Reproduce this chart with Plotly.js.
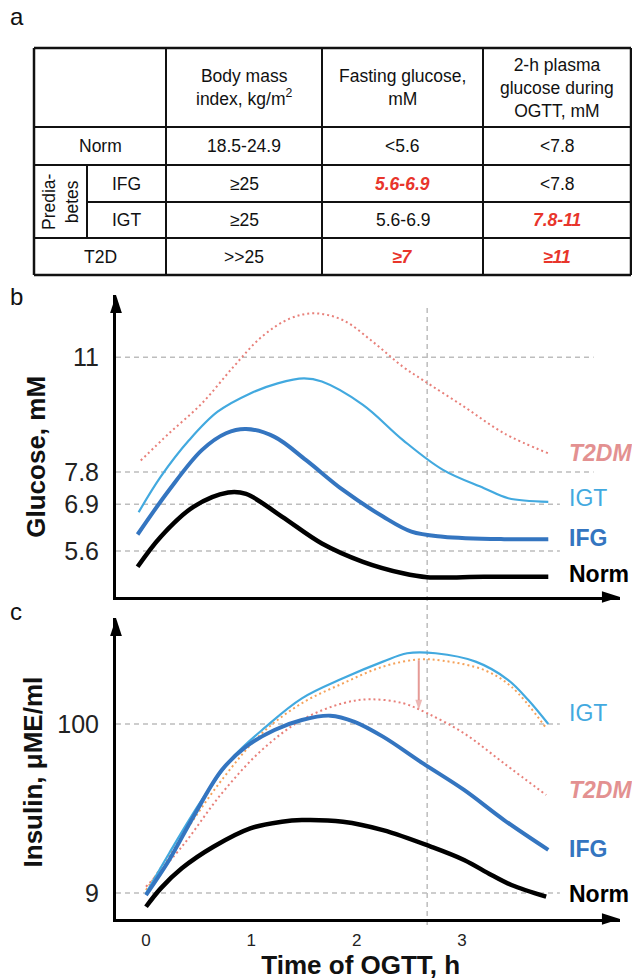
<!DOCTYPE html>
<html><head><meta charset="utf-8">
<script src="https://cdn.plot.ly/plotly-3.0.1.min.js"></script>
<style>html,body{margin:0;padding:0;background:#fff;}#chart{width:632px;height:980px;}</style>
</head><body><div id="chart"></div>
<script>
// ===== Panel a: classification table =====
const tableHeaders = ["", "Body mass<br>index, kg/m<sup>2</sup>", "Fasting glucose,<br>mM", "2-h plasma<br>glucose during<br>OGTT, mM"];
const tableGroups = ["Norm", "IFG", "IGT", "T2D"];
const prediabetesLabel = "Predia-<br>betes";
const bmiValues = ["18.5-24.9", "≥25", "≥25", ">>25"];
const fastingValues = ["<5.6", "5.6-6.9", "5.6-6.9", "≥7"];
const ogttValues = ["<7.8", "<7.8", "7.8-11", "≥11"];
const fastingHighlight = [false, true, false, true];
const ogttHighlight = [false, false, true, true];

// ===== Panel b: glucose during OGTT (mM) =====
const glucoseTicks = [5.6, 6.9, 7.8, 11];
const glucNormT = [-0.08, 0.14, 0.45, 0.78, 0.95, 1.29, 1.67, 2.06, 2.44, 2.67, 3.21, 3.82];
const glucNormY = [5.16, 6.0, 6.83, 7.23, 7.19, 6.56, 5.81, 5.30, 4.98, 4.87, 4.88, 4.88];
const glucIfgT = [-0.08, 0.22, 0.53, 0.76, 0.95, 1.22, 1.52, 1.87, 2.25, 2.52, 2.82, 3.40, 3.82];
const glucIfgY = [6.06, 7.30, 8.41, 8.88, 9.0, 8.78, 8.13, 7.30, 6.56, 6.14, 6.0, 5.93, 5.93];
const glucIgtT = [-0.07, 0.14, 0.41, 0.68, 0.99, 1.25, 1.50, 1.67, 2.06, 2.44, 2.82, 3.21, 3.44, 3.82];
const glucIgtY = [6.68, 7.67, 8.69, 9.48, 9.99, 10.27, 10.41, 10.32, 9.67, 8.69, 7.86, 7.35, 7.07, 6.97];
const glucT2dmT = [-0.05, 0.22, 0.53, 0.83, 1.10, 1.37, 1.60, 1.87, 2.17, 2.44, 2.63, 3.02, 3.40, 3.82];
const glucT2dmY = [8.12, 8.88, 9.71, 10.73, 11.57, 12.08, 12.22, 12.03, 11.39, 10.73, 10.36, 9.62, 8.88, 8.32];

// ===== Panel c: insulin during OGTT (µME/ml) =====
const insulinTicks = [9, 100];
const timeTicks = [0, 1, 2, 3];
const insNormT = [0, 0.14, 0.34, 0.64, 0.99, 1.29, 1.48, 1.87, 2.25, 2.71, 3.02, 3.28, 3.47, 3.80];
const insNormY = [1.6, 11.5, 22.3, 33.9, 43.8, 47.4, 48.3, 47.4, 42.9, 33.9, 26.8, 18.7, 13.3, 7.0];
const insIfgT = [0, 0.22, 0.45, 0.72, 0.95, 1.22, 1.48, 1.75, 1.98, 2.25, 2.63, 3.02, 3.40, 3.82];
const insIfgY = [7.9, 26.8, 50.1, 75.2, 87.8, 96.8, 102.2, 104.5, 101.2, 93.2, 78.8, 64.5, 48.3, 32.2];
const insIgtT = [0, 0.22, 0.53, 0.83, 1.14, 1.48, 1.87, 2.25, 2.48, 2.75, 3.13, 3.44, 3.63, 3.82];
const insIgtY = [8.8, 30.4, 59.1, 82.4, 98.6, 113.8, 124.6, 133.6, 138.1, 138.1, 133.6, 123.7, 112.9, 100];
const insIgtT2dmT = [0, 0.34, 0.72, 1.10, 1.48, 1.87, 2.25, 2.59, 2.82, 3.21, 3.47, 3.80];
const insIgtT2dmY = [10.6, 39.3, 69.9, 95.0, 111.2, 121.9, 130.9, 134.8, 134.1, 129.1, 120.1, 97.8];
const insT2dmT = [0, 0.34, 0.72, 1.10, 1.48, 1.87, 2.13, 2.44, 2.67, 3.02, 3.40, 3.80];
const insT2dmY = [12.4, 33.9, 62.7, 86.0, 102.2, 111.2, 113.3, 111.2, 105.8, 95.0, 78.8, 61.8];
const dropTime = [2.59, 2.59];
const dropLevels = [134.3, 107.5];
const refTime = 2.67;

// ===== styling =====
const FONT = "Liberation Sans, Arial, Helvetica, sans-serif";
const C = {norm: "#000000", ifg: "#3475c0", igt: "#42a9df", t2dm: "#e8807a", t2dmText: "#e39191",
           orange: "#f5a25a", red: "#e8352b", grid: "#bdbdbd", drop: "#e59a96"};

// table geometry (table-axis px units)
const colEdges = [34, 87, 166, 322, 483, 631];
const rowEdges = [48, 127, 165, 202, 238, 275];

const esc = s => s.replace(/&/g, "&amp;").replace(/</g, "&lt;").replace(/>/g, "&gt;");
const mid = (a, b) => (a + b) / 2;

const shapes = [];
const annotations = [];

function tl(x0, y0, x1, y1, w) {
  shapes.push({type: "line", xref: "x3", yref: "y3", x0, y0, x1, y1, line: {color: "#111", width: w || 2}});
}
[0, 1, 2, 4, 5].forEach(i => tl(colEdges[0], rowEdges[i], colEdges[5], rowEdges[i], (i === 0 || i === 5) ? 2.5 : 2));
tl(colEdges[1], rowEdges[3], colEdges[5], rowEdges[3]);
[0, 2, 3, 4, 5].forEach(j => tl(colEdges[j], rowEdges[0], colEdges[j], rowEdges[5], (j === 0 || j === 5) ? 2.5 : 2));
tl(colEdges[1], rowEdges[2], colEdges[1], rowEdges[4]);

function tt(text, x, y, opts) {
  opts = opts || {};
  annotations.push(Object.assign({xref: "x3", yref: "y3", x, y, text, showarrow: false,
    xanchor: "center", yanchor: "middle",
    font: {family: FONT, size: 17.5, color: opts.color || "#111"}}, opts.extra || {}));
}
for (let j = 1; j < tableHeaders.length; j++) {
  tt(tableHeaders[j], mid(colEdges[j + 1], colEdges[j + 2]), mid(rowEdges[0], rowEdges[1]));
}
tableGroups.forEach((g, i) => {
  const yc = mid(rowEdges[i + 1], rowEdges[i + 2]);
  const merged = (g === "Norm" || g === "T2D");
  tt(g, merged ? mid(colEdges[0], colEdges[2]) : mid(colEdges[1], colEdges[2]), yc);
  tt(esc(bmiValues[i]), mid(colEdges[2], colEdges[3]), yc);
  tt(fastingHighlight[i] ? "<b><i>" + esc(fastingValues[i]) + "</i></b>" : esc(fastingValues[i]),
     mid(colEdges[3], colEdges[4]), yc, fastingHighlight[i] ? {color: C.red} : {});
  tt(ogttHighlight[i] ? "<b><i>" + esc(ogttValues[i]) + "</i></b>" : esc(ogttValues[i]),
     mid(colEdges[4], colEdges[5]), yc, ogttHighlight[i] ? {color: C.red} : {});
});
tt(prediabetesLabel, mid(colEdges[0], colEdges[1]), mid(rowEdges[2], rowEdges[4]), {extra: {textangle: -90}});

// panel letters
[["a", 0.983], ["b", 0.697], ["c", 0.376]].forEach(([t, y]) => {
  annotations.push({xref: "paper", yref: "paper", x: 0.012, y, text: t, showarrow: false,
    xanchor: "left", yanchor: "middle", font: {family: FONT, size: 24, color: "#111"}});
});

// axes ranges
const xRange = [-0.285, 4.501];
const gRange = [4.319, 12.731];
const iRange = [-5.0, 157.1];

// dashed reference gridlines
const gridEndsG = [3.93, 3.93, 4.25, 4.25];
glucoseTicks.forEach((v, i) => shapes.push({type: "line", xref: "x", yref: "y", x0: xRange[0], x1: gridEndsG[i], y0: v, y1: v,
  line: {color: C.grid, width: 1.5, dash: "5px,4px"}, layer: "below"}));
const gridEndsI = [3.93, 3.93];
insulinTicks.forEach((v, i) => shapes.push({type: "line", xref: "x2", yref: "y2", x0: xRange[0], x1: gridEndsI[i], y0: v, y1: v,
  line: {color: C.grid, width: 1.5, dash: "5px,4px"}, layer: "below"}));
shapes.push({type: "line", xref: "x", yref: "paper", x0: refTime, x1: refTime, y0: 1 - 925 / 980, y1: 1 - 305 / 980,
  line: {color: C.grid, width: 1.5, dash: "5px,4px"}, layer: "below"});

function line(x, y, xa, ya, color, width, dash) {
  return {type: "scatter", mode: "lines", x, y, xaxis: xa, yaxis: ya, hoverinfo: "skip", showlegend: false,
    line: {color, width, dash: dash || "solid", shape: "spline", smoothing: 1}};
}
function axisHeads(xa, ya, yr) {
  return {type: "scatter", mode: "markers", x: [xRange[1], xRange[0]], y: [yr[0], yr[1]], xaxis: xa, yaxis: ya,
    cliponaxis: false, hoverinfo: "skip", showlegend: false,
    marker: {symbol: "arrow", angle: [90, 0], size: 19, color: "#000", line: {width: 0}}};
}
const traces = [
  line(glucT2dmT, glucT2dmY, "x", "y", C.t2dm, 2, "2px,3px"),
  line(glucIgtT, glucIgtY, "x", "y", C.igt, 2.2),
  line(glucIfgT, glucIfgY, "x", "y", C.ifg, 4),
  line(glucNormT, glucNormY, "x", "y", C.norm, 4.5),
  line(insT2dmT, insT2dmY, "x2", "y2", C.t2dm, 2, "2px,3px"),
  line(insIgtT2dmT, insIgtT2dmY, "x2", "y2", C.orange, 2, "2px,3px"),
  line(insIgtT, insIgtY, "x2", "y2", C.igt, 2.2),
  line(insIfgT, insIfgY, "x2", "y2", C.ifg, 4),
  line(insNormT, insNormY, "x2", "y2", C.norm, 4.5),
  {type: "scatter", mode: "lines+markers", x: dropTime, y: dropLevels, xaxis: "x2", yaxis: "y2",
   hoverinfo: "skip", showlegend: false, line: {color: C.drop, width: 2},
   marker: {symbol: ["circle", "arrow"], size: [0, 11], angleref: "previous", color: C.drop, line: {width: 0}}},
  axisHeads("x", "y", gRange),
  axisHeads("x2", "y2", iRange),
  {type: "scatter", mode: "markers", x: [colEdges[0]], y: [rowEdges[0]], xaxis: "x3", yaxis: "y3",
   marker: {opacity: 0}, hoverinfo: "skip", showlegend: false}
];

// curve labels
const labelX = 4.0;
function lab(text, xr, yr, y, color, bold, italic, shift) {
  let t = text;
  if (italic) t = "<i>" + t + "</i>";
  if (bold) t = "<b>" + t + "</b>";
  annotations.push({xref: xr, yref: yr, x: labelX, y, yshift: shift, text: t, showarrow: false,
    xanchor: "left", yanchor: "middle", font: {family: FONT, size: 23, color}});
}
lab("T2DM", "x", "y", glucT2dmY[glucT2dmY.length - 1], C.t2dmText, true, true, 0);
lab("IGT", "x", "y", glucIgtY[glucIgtY.length - 1], C.igt, false, false, 4);
lab("IFG", "x", "y", glucIfgY[glucIfgY.length - 1], C.ifg, true, false, 1);
lab("Norm", "x", "y", glucNormY[glucNormY.length - 1], C.norm, true, false, 3);
lab("IGT", "x2", "y2", insIgtY[insIgtY.length - 1], C.igt, false, false, 11);
lab("T2DM", "x2", "y2", insT2dmY[insT2dmY.length - 1], C.t2dmText, true, true, 5);
lab("IFG", "x2", "y2", insIfgY[insIfgY.length - 1], C.ifg, true, false, 1);
lab("Norm", "x2", "y2", insNormY[insNormY.length - 1], C.norm, true, false, 3);

const xDom = [116 / 632, 620 / 632];
const axLine = {showline: true, linewidth: 3, linecolor: "#000", showgrid: false, zeroline: false};
const layout = {
  width: 632, height: 980, margin: {l: 0, r: 0, t: 0, b: 0},
  paper_bgcolor: "#fff", plot_bgcolor: "rgba(0,0,0,0)",
  font: {family: FONT, color: "#111"},
  showlegend: false,
  xaxis: Object.assign({domain: xDom, range: xRange, anchor: "y", showticklabels: false, ticks: ""}, axLine),
  yaxis: Object.assign({domain: [1 - 597 / 980, 1 - 295 / 980], range: gRange, anchor: "x",
    tickvals: glucoseTicks, ticktext: glucoseTicks.map(String), ticks: "", ticklabelstandoff: 9,
    tickfont: {family: FONT, size: 25, color: "#222"},
    title: {text: "<b>Glucose, mM</b>&nbsp;&nbsp;&nbsp;", font: {family: FONT, size: 26, color: "#111"}, standoff: 12}}, axLine),
  xaxis2: Object.assign({domain: xDom, range: xRange, anchor: "y2",
    tickvals: timeTicks, ticktext: timeTicks.map(String), ticks: "", ticklabelstandoff: 4,
    tickfont: {family: FONT, size: 17, color: "#222"},
    title: {text: "<b>Time of OGTT, h</b>&nbsp;&nbsp;", font: {family: FONT, size: 26, color: "#111"}, standoff: 12}}, axLine),
  yaxis2: Object.assign({domain: [1 - 919 / 980, 1 - 618 / 980], range: iRange, anchor: "x2",
    tickvals: insulinTicks, ticktext: insulinTicks.map(String), ticks: "", ticklabelstandoff: 9,
    tickfont: {family: FONT, size: 25, color: "#222"},
    title: {text: "<b>Insulin, μME/ml</b>&nbsp;", font: {family: FONT, size: 26, color: "#111"}, standoff: 8}}, axLine),
  xaxis3: {domain: [0, 1], range: [0, 632], anchor: "y3", visible: false, fixedrange: true},
  yaxis3: {domain: [1 - 290 / 980, 1], range: [290, 0], anchor: "x3", visible: false, fixedrange: true},
  shapes, annotations
};
Plotly.newPlot("chart", traces, layout, {staticPlot: true, displayModeBar: false});
</script></body></html>
